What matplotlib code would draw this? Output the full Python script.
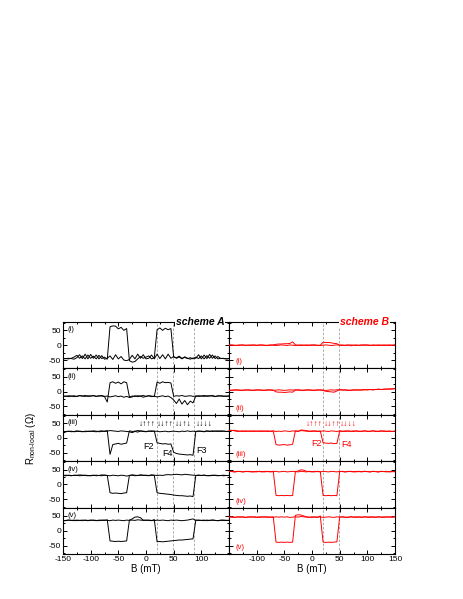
import numpy as np
import matplotlib
matplotlib.use('Agg')
import matplotlib.pyplot as plt
from matplotlib.ticker import MultipleLocator

plt.rcParams['font.family'] = ['Liberation Sans', 'DejaVu Sans']
plt.rcParams['mathtext.fontset'] = 'custom'
plt.rcParams['mathtext.rm'] = 'Liberation Sans'
plt.rcParams['mathtext.it'] = 'Liberation Sans:italic'

# magnetic field grid (mT)
field = np.arange(-150, 151, 5)

row_labels = ['(i)', '(ii)', '(iii)', '(iv)', '(v)']
switch_A = [20, 48, 86]
switch_B = [20, 48]

# ---------------- scheme A (black) ----------------
A_i_1 = [-45, -45, -46, -44, -40, -34, -44, -36, -46, -33,
         -44, -37, -46, -34, -45, -40, -47, 62, 65, 64,
         55, 60, 50, 56, -52, -57, -55, -46, -38, -44,
         -40, -36, -46, -42, 52, 58, 50, 57, 52, 56,
         -40, -42, -37, -44, -41, -45, -42, -46, -40, -45,
         -36, -46, -35, -44, -33, -45, -38, -45, -44, -46, -45]
A_i_2 = [-46, -45, -44, -45, -47, -42, -32, -45, -30, -46,
         -31, -44, -33, -46, -35, -47, -44, -36, -48, -32,
         -46, -38, -50, -52, -48, -34, -46, -30, -44, -32,
         -46, -44, -33, -46, -30, -45, -32, -46, -30, -44,
         -38, -44, -40, -46, -39, -44, -47, -43, -44, -32,
         -46, -33, -45, -31, -44, -36, -46, -44, -45, -46, -45]
A_ii_1 = [-16, -15, -17, -15, -14, -16, -13, -15, -16, -14,
          -15, -13, -16, -14, -15, -17, -35, 30, 33, 28,
          32, 26, 33, 30, -18, -15, -16, -14, -15, -13,
          -16, -14, -15, -17, 32, 28, 33, 30, 31, 29,
          -16, -14, -15, -13, -16, -15, -14, -16, -15, -14,
          -15, -16, -14, -15, -13, -16, -15, -14, -15, -16, -15]
A_ii_2 = [-15, -16, -14, -15, -17, -16, -14, -15, -13, -16,
          -15, -14, -16, -15, -13, -16, -15, -18, -16, -14,
          -17, -15, -19, -16, -20, -18, -14, -17, -15, -19,
          -16, -14, -17, -15, -18, -16, -14, -17, -15, -20,
          -28, -40, -25, -42, -30, -44, -32, -38, -15, -16,
          -15, -13, -16, -14, -15, -17, -14, -15, -16, -15, -15]
A_iii_1 = [16, 22, 23, 21, 22, 24, 22, 21, 23, 22,
           23, 22, 21, 23, 24, 22, 23, 25, 24, 23,
           22, 24, 23, 22, 21, 18, 22, 20, 23, 22,
           21, 23, 22, 24, -16, -18, -20, -19, -21, -20,
           -48, -52, -54, -55, -56, -57, -56, -58, 22, 23,
           22, 21, 23, 22, 24, 23, 22, 24, 23, 22, 22]
A_iii_2 = [16, 21, 22, 23, 21, 22, 23, 22, 21, 23,
           22, 24, 23, 21, 22, 23, 25, -55, -22, -20,
           -18, -21, -19, -17, 24, 22, 23, 25, 24, 23,
           22, 23, 24, 22, 23, 21, 22, 23, 21, 22,
           23, 22, 21, 23, 22, 24, 22, 23, 22, 23,
           23, 22, 24, 23, 22, 23, 24, 22, 23, 22, 23]
A_iv_1 = [30, 31, 30, 29, 31, 30, 32, 31, 30, 29,
          30, 31, 29, 30, 32, 31, 30, 29, 31, 30,
          29, 31, 30, 28, 30, 31, 29, 30, 32, 31,
          30, 29, 31, 30, -28, -30, -31, -32, -33, -34,
          -36, -37, -38, -38, -39, -40, -39, -41, 30, 31,
          30, 31, 29, 30, 31, 30, 29, 30, 31, 30, 30]
A_iv_2 = [30, 29, 31, 30, 30, 31, 29, 30, 31, 30,
          29, 30, 31, 30, 29, 31, 30, -28, -30, -29,
          -30, -31, -29, -28, 30, 32, 31, 30, 31, 30,
          31, 30, 32, 31, 30, 31, 30, 32, 33, 32,
          33, 34, 33, 32, 34, 33, 32, 31, 30, 31,
          30, 31, 30, 29, 30, 31, 30, 30, 29, 30, 30]
A_v_1 = [33, 35, 36, 35, 34, 36, 35, 34, 36, 35,
         36, 35, 34, 36, 35, 36, 35, 34, 36, 35,
         36, 35, 34, 36, 35, 36, 35, 37, 36, 35,
         36, 35, 34, 38, -37, -36, -37, -36, -35, -34,
         -33, -32, -31, -31, -30, -29, -28, -27, 36, 35,
         35, 36, 34, 35, 36, 35, 34, 35, 36, 35, 35]
A_v_2 = [35, 34, 36, 35, 36, 34, 35, 36, 35, 34,
         35, 36, 35, 34, 36, 35, 37, -34, -35, -36,
         -35, -36, -35, -34, 36, 40, 46, 47, 44, 36,
         35, 36, 35, 34, 36, 35, 36, 35, 34, 36,
         35, 36, 35, 34, 35, 36, 38, 40, 35, 36,
         35, 34, 36, 35, 36, 35, 34, 36, 35, 35, 35]

# ---------------- scheme B (red) ----------------
B_i_1 = [0, 1, 0, -1, 0, 1, 0, 0, -1, 1,
         0, 1, 0, -1, 0, 1, 0, -1, 0, 1,
         0, -1, 1, 0, -1, 0, 1, 0, -1, 0,
         1, 0, -1, 0, 10, 9, 9, 8, 6, 5,
         0, -1, 0, 1, -2, 0, 1, -1, 0, 1,
         0, -1, 1, 0, -1, 0, 1, 0, -1, 0, 0]
B_i_2 = [1, 0, -1, 0, 1, 0, -1, 0, 1, 0,
         -1, 0, 1, 0, -1, 0, 1, 3, 4, 4,
         5, 5, 6, 11, 1, 0, -1, 0, 1, 0,
         0, 1, 0, -1, 0, 1, 0, -1, 0, 1,
         0, 1, -1, 0, 1, 0, -1, 0, 1, 0,
         1, 0, -1, 0, 1, 0, -1, 0, 1, 0, 1]
B_ii_1 = [5, 4, 5, 6, 5, 4, 5, 6, 5, 4,
          5, 6, 5, 4, 5, 6, 5, -1, -2, -2,
          -3, -2, -1, -2, 5, 6, 5, 4, 5, 6,
          5, 4, 5, 6, 5, 4, 5, 6, 5, 6,
          5, 6, 5, 4, 5, 6, 5, 6, 5, 6,
          6, 7, 6, 7, 8, 7, 8, 9, 8, 9, 10]
B_ii_2 = [4, 5, 6, 5, 4, 5, 6, 5, 4, 5,
          6, 5, 4, 5, 6, 5, 4, 5, 6, 5,
          4, 5, 6, 5, 6, 5, 4, 5, 6, 5,
          4, 5, 6, 5, 4, 1, 0, -1, -2, 2,
          8, 5, 6, 5, 4, 5, 6, 5, 6, 7,
          6, 7, 6, 7, 8, 7, 8, 8, 9, 9, 10]
B_iii_1 = [26, 25, 26, 24, 23, 22, 24, 23, 22, 24,
           23, 22, 24, 23, 22, 23, 24, 22, 23, 22,
           24, 23, 22, 24, 23, 22, 25, 24, 23, 22,
           24, 23, 22, 24, -16, -17, -18, -17, -19, -18,
           23, 22, 24, 23, 22, 24, 23, 22, 23, 24,
           23, 22, 24, 23, 22, 23, 24, 22, 23, 22, 23]
B_iii_2 = [25, 26, 24, 22, 23, 24, 22, 23, 24, 22,
           23, 24, 22, 23, 24, 22, 23, -22, -24, -23,
           -22, -24, -23, -21, 24, 23, 27, 26, 25, 23,
           22, 24, 23, 22, 24, 23, 22, 24, 23, 22,
           24, 23, 22, 24, 23, 22, 24, 23, 22, 24,
           22, 23, 24, 22, 23, 24, 22, 23, 23, 22, 23]
B_iv_1 = [43, 44, 42, 43, 44, 42, 43, 44, 43, 42,
          44, 43, 42, 44, 43, 42, 43, 44, 42, 43,
          44, 42, 43, 44, 43, 42, 44, 43, 42, 44,
          43, 42, 44, 43, -37, -38, -37, -38, -37, -38,
          43, 44, 42, 43, 44, 43, 42, 44, 43, 44,
          43, 42, 44, 43, 42, 44, 43, 42, 43, 43, 43]
B_iv_2 = [44, 43, 42, 44, 43, 42, 44, 43, 42, 43,
          42, 44, 43, 42, 44, 43, 44, -37, -38, -37,
          -38, -37, -38, -37, 43, 45, 49, 48, 44, 43,
          42, 44, 43, 42, 44, 43, 42, 44, 43, 42,
          44, 43, 42, 44, 43, 42, 44, 43, 42, 44,
          43, 42, 44, 43, 42, 44, 43, 44, 42, 43, 43]
B_v_1 = [46, 47, 45, 46, 47, 46, 45, 47, 46, 47,
         46, 45, 47, 46, 47, 46, 45, 47, 46, 47,
         46, 47, 45, 46, 47, 46, 48, 47, 46, 45,
         47, 46, 45, 50, -38, -39, -38, -39, -38, -37,
         46, 47, 46, 45, 47, 46, 47, 46, 45, 47,
         46, 47, 46, 45, 47, 46, 47, 46, 47, 46, 47]
B_v_2 = [47, 46, 45, 47, 46, 47, 45, 46, 47, 46,
         45, 47, 46, 47, 45, 46, 47, -38, -39, -38,
         -39, -38, -39, -38, 52, 54, 53, 50, 47, 46,
         45, 47, 46, 47, 45, 46, 47, 46, 45, 47,
         46, 47, 45, 46, 47, 46, 45, 47, 46, 47,
         46, 45, 47, 46, 47, 46, 45, 47, 46, 46, 47]

rows_A = [(A_i_1, A_i_2), (A_ii_1, A_ii_2), (A_iii_1, A_iii_2),
          (A_iv_1, A_iv_2), (A_v_1, A_v_2)]
rows_B = [(B_i_1, B_i_2), (B_ii_1, B_ii_2), (B_iii_1, B_iii_2),
          (B_iv_1, B_iv_2), (B_v_1, B_v_2)]

arrows_A = [(2, '↓↑↑↑'), (35, '↓↓↑↑'), (68, '↓↓↑↓'), (105, '↓↓↓↓')]
arrows_B = [(4, '↓↑↑↑'), (37, '↓↓↑↑'), (66, '↓↓↓↓')]
flabels_A = [(5, -27, 'F2'), (39, -53, 'F4'), (100, -41, 'F3')]
flabels_B = [(9, -20, 'F2'), (62, -23, 'F4')]

W, H = 463, 599
fig = plt.figure(figsize=(W / 100, H / 100), dpi=100)

x_left = [63, 229]
pw = 166
top = 322
rh = 46.4

xticks = [-150, -100, -50, 0, 50, 100, 150]

for col in range(2):
    color = 'black' if col == 0 else 'red'
    rows = rows_A if col == 0 else rows_B
    switches = switch_A if col == 0 else switch_B
    for r in range(5):
        y0 = 1 - (top + (r + 1) * rh) / H
        ax = fig.add_axes([x_left[col] / W, y0, pw / W, rh / H])
        for s in switches:
            ax.axvline(s, color='#a0a0a0', lw=0.6, ls=(0, (3, 2)), zorder=1)
        c1, c2 = rows[r]
        ax.plot(field, c1, color=color, lw=0.7, zorder=3)
        ax.plot(field, c2, color=color, lw=0.7, zorder=3)
        ax.set_xlim(-150, 150)
        ax.set_ylim(-78, 78)
        ax.set_xticks(xticks)
        ax.xaxis.set_minor_locator(MultipleLocator(25))
        ax.set_yticks([-50, 0, 50])
        ax.yaxis.set_minor_locator(MultipleLocator(25))
        ax.tick_params(which='both', direction='in', top=True, right=True,
                       labelsize=6, pad=1.5, width=0.7)
        ax.tick_params(which='major', length=3)
        ax.tick_params(which='minor', length=1.5)
        for sp in ax.spines.values():
            sp.set_linewidth(0.8)
        if r == 4:
            if col == 0:
                labs = ['-150', '-100', '-50', '0', '50', '100', '']
            else:
                labs = ['', '-100', '-50', '0', '50', '100', '150']
            ax.set_xticklabels(labs)
            ax.set_xlabel('B (mT)', fontsize=7, labelpad=1)
        else:
            ax.set_xticklabels([])
        if col == 0:
            ax.set_yticklabels(['-50', '0', '50'])
            ax.text(0.03, 0.83, row_labels[r], transform=ax.transAxes,
                    fontsize=5.5, color=color, ha='left', va='center')
        else:
            ax.set_yticklabels([])
            ax.text(0.042, 0.14, row_labels[r], transform=ax.transAxes,
                    fontsize=5.5, color=color, ha='left', va='center')
        if r == 0:
            name = 'scheme A' if col == 0 else 'scheme B'
            xr = 0.973 if col == 0 else 0.963
            ax.text(xr, 1.0, name, transform=ax.transAxes, ha='right',
                    va='center', fontsize=7.5, fontweight='bold',
                    style='italic', color=color, zorder=10, clip_on=False,
                    bbox=dict(fc='white', ec='none', pad=0.6))
        if r == 2:
            arrows = arrows_A if col == 0 else arrows_B
            flabs = flabels_A if col == 0 else flabels_B
            for xa, txt in arrows:
                ax.text(xa, 46, txt, ha='center', va='center', fontsize=6,
                        fontweight='bold', color=color, zorder=5)
            for xf, yf, txt in flabs:
                ax.text(xf, yf, txt, ha='center', va='center', fontsize=6.5,
                        color=color, zorder=5)

fig.text(31 / W, 1 - 438 / H, r'R$_{\mathrm{non}\text{-}\mathrm{local}}$ (Ω)',
         rotation=90, ha='center', va='center', fontsize=7)

fig.savefig('out.png', dpi=100)
